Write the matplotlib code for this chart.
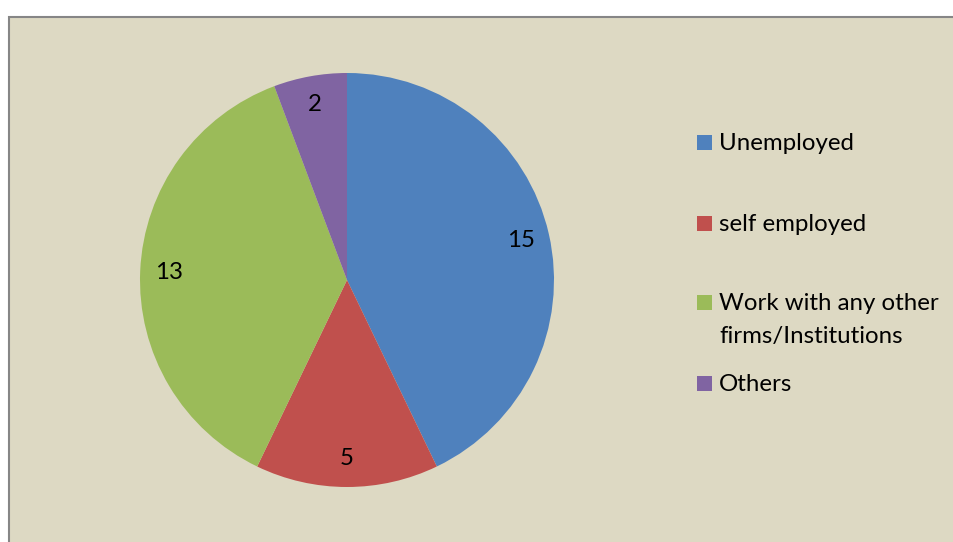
import matplotlib.pyplot as plt
from matplotlib.patches import Rectangle

categories = ['Unemployed', 'self employed', 'Work with any other\nfirms/Institutions', 'Others']
counts = [15, 5, 13, 2]
colors = ['#4F81BD', '#C0504D', '#9BBB59', '#8064A2']

W, H = 954, 542
fig = plt.figure(figsize=(W / 100, H / 100), dpi=100)
fig.patch.set_facecolor('white')
plt.rcParams['font.family'] = ['Lato', 'DejaVu Sans']
FS = 17.3

# chart area box, runs off the right and bottom edges
fig.patches.append(Rectangle((9 / W, -0.1), 1.2, 1.1 - 17 / H, transform=fig.transFigure,
                             facecolor='#DDD9C3', edgecolor='#868686', linewidth=1.5,
                             zorder=-5))

cx, cy, r = 347, 280, 207
ax = fig.add_axes([(cx - r) / W, (H - cy - r) / H, 2 * r / W, 2 * r / H])
ax.set_facecolor('none')
wedges, texts, autotexts = ax.pie(counts, colors=colors, startangle=90, counterclock=False,
                                  radius=1, pctdistance=0.86,
                                  autopct=lambda p: '%d' % round(p * sum(counts) / 100),
                                  wedgeprops={'linewidth': 0})
for t in autotexts:
    t.set_fontsize(FS)
    t.set_color('black')
ax.set_xlim(-1, 1)
ax.set_ylim(-1, 1)
ax.set_aspect('equal')
ax.axis('off')

# legend, drawn by hand; square sits on the first line's baseline
leg_base = [150, 231, 310, 391]
line_h = 33
for label, col, yb in zip(categories, colors, leg_base):
    fig.patches.append(Rectangle((697 / W, (H - yb) / H), 15 / W, 15 / H,
                                 transform=fig.transFigure, facecolor=col, edgecolor='none'))
    lines = label.split('\n')
    for k, line in enumerate(lines):
        fig.text(719 / W, (H - yb - k * line_h) / H, line, fontsize=FS, va='baseline',
                 ha='left', transform=fig.transFigure)

fig.savefig('out.png', dpi=100)
